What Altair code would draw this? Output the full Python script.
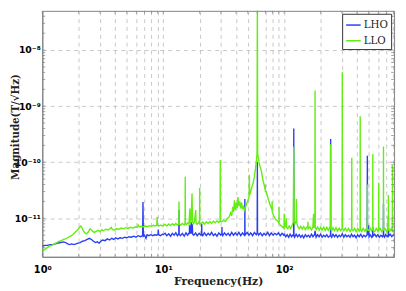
import altair as alt
import pandas as pd

# (frequency in Hz, magnitude in 1e-12 T/sqrt(Hz))
lho = [
    (1.00, 3.2), (1.05, 3.3), (1.10, 3.3), (1.16, 3.4), (1.22, 3.4), (1.28, 3.5), (1.35, 3.6), (1.42, 3.7),
    (1.50, 3.8), (1.56, 3.7), (1.62, 3.5), (1.68, 3.4), (1.75, 3.5), (1.82, 3.4), (1.90, 3.5), (1.98, 3.6),
    (2.06, 3.7), (2.15, 3.9), (2.25, 4.0), (2.35, 4.2), (2.45, 4.4), (2.55, 4.2), (2.65, 3.9), (2.75, 3.7),
    (2.85, 3.8), (2.95, 3.6), (3.05, 3.9), (3.15, 4.1), (3.3, 4.0), (3.45, 4.3), (3.6, 4.1), (3.75, 4.4),
    (3.9, 4.2), (4.05, 4.5), (4.2, 4.3), (4.4, 4.5), (4.6, 4.4), (4.8, 4.6), (5.0, 4.5), (5.2, 4.7),
    (5.45, 4.6), (5.7, 4.8), (5.95, 4.6), (6.2, 4.9), (6.5, 4.7), (6.75, 4.9), (6.8, 19.5), (6.85, 4.8),
    (7.0, 5.0), (7.2, 4.4), (7.35, 5.1), (7.6, 4.9), (7.9, 5.1), (8.2, 4.9), (8.5, 5.1), (8.8, 5.0),
    (9.05, 5.2), (9.1, 6.3), (9.15, 5.1), (9.5, 4.9), (9.8, 5.2), (10.0, 5.1),
    (10.35, 5.4), (10.7, 4.9), (11.1, 5.3), (11.5, 4.8), (11.9, 5.4), (12.3, 5.0), (12.7, 5.5), (13.1, 4.9),
    (13.45, 5.3), (13.5, 14.0), (13.55, 5.2), (13.9, 4.9), (14.4, 5.4), (14.9, 4.8), (15.4, 5.5), (15.9, 5.0),
    (16.45, 5.6), (16.5, 7.6), (16.6, 5.4), (16.95, 5.5), (17.0, 8.6), (17.1, 5.6), (17.35, 5.4), (17.4, 7.8),
    (17.5, 5.2), (17.9, 5.0), (18.5, 5.5), (19.1, 4.9), (19.8, 5.4), (20.5, 5.0), (20.75, 5.3), (20.8, 8.0),
    (20.85, 5.2), (21.2, 4.9), (21.9, 5.5), (22.7, 4.9), (23.5, 5.4), (24.3, 5.0), (25.1, 5.6), (26.0, 4.9),
    (26.9, 5.3), (27.8, 4.8), (28.8, 5.5), (29.8, 5.0), (30.55, 5.4), (30.6, 7.0), (30.65, 5.3), (31.0, 4.9),
    (32.1, 5.5), (33.2, 5.0), (34.4, 5.4), (35.6, 4.9), (36.8, 5.6), (38.1, 5.0), (39.4, 5.5), (40.8, 5.0),
    (42.2, 5.6), (43.7, 4.9), (45.2, 5.5), (46.8, 5.0), (47.2, 5.4), (47.3, 22.0), (47.4, 5.5), (47.8, 5.1),
    (49.4, 5.6), (51.1, 5.0), (52.9, 5.5), (54.8, 4.9), (56.7, 5.6), (58.7, 5.1), (59.8, 5.5), (60.0, 100.0),
    (60.2, 5.6), (61.5, 5.0), (63.6, 5.5), (65.8, 4.9), (68.1, 5.4), (70.5, 5.0), (73.0, 5.6), (75.5, 4.9),
    (78.1, 5.5), (80.9, 5.0), (83.7, 5.4), (86.6, 5.1), (89.6, 5.5), (92.7, 4.9), (96.0, 5.4), (99.3, 5.0),
    (100, 5.2), (103, 4.7), (106, 5.1), (109, 4.6), (112, 5.2), (115, 4.7), (118.5, 5.1), (119.6, 4.8),
    (120, 400.0), (120.4, 5.0), (122, 4.6), (125.5, 5.2), (129, 4.7), (133, 5.1), (137, 4.6), (141, 5.0),
    (145, 4.5), (149.5, 5.1), (154, 4.7), (158.5, 5.0), (163, 4.6), (168, 5.2), (173, 4.7), (178, 5.1),
    (180, 6.0), (183.5, 4.6), (189, 5.1), (194.5, 4.7), (200, 5.2), (206, 4.6), (212, 5.0), (218.5, 4.7),
    (225, 5.1), (231.5, 4.6), (241.5, 5.0), (242, 260.0), (242.5, 4.9), (247, 4.6), (253, 5.2), (260.5, 4.7),
    (268, 5.1), (276, 4.6), (284.5, 5.0), (293, 4.7), (302, 5.3), (311, 4.6), (320, 5.1), (330, 4.7),
    (340, 5.0), (350, 4.6), (360, 5.2), (371, 4.7), (382, 5.0), (393, 4.5), (405, 5.1), (417, 4.7),
    (430, 5.2), (443, 4.6), (456, 5.0), (470, 4.7), (485.5, 5.1), (487, 130.0), (488.5, 5.0), (498, 7.5),
    (503, 4.7), (513, 5.1), (528, 4.6), (538, 5.0), (540, 7.0), (542, 4.8), (560, 5.2), (577, 4.7),
    (594, 5.1), (612, 4.6), (630, 5.0), (649, 4.7), (660, 5.1), (662, 18.0), (664, 4.9), (675, 4.6),
    (690, 5.1), (709, 4.7), (725, 5.0), (727, 11.0), (729, 4.8), (752, 5.2), (775, 4.7), (800, 5.1),
    (820, 4.8),
]

llo = [
    (1.00, 2.6), (1.05, 2.8), (1.10, 3.0), (1.15, 3.2), (1.20, 3.3), (1.26, 3.5), (1.32, 3.7), (1.38, 3.9),
    (1.44, 4.0), (1.50, 4.2), (1.56, 4.3), (1.62, 4.5), (1.68, 4.7), (1.74, 4.9), (1.80, 5.2), (1.86, 5.6),
    (1.92, 6.0), (1.98, 6.4), (2.04, 7.0), (2.08, 7.3), (2.12, 6.9), (2.18, 6.0), (2.25, 5.5), (2.32, 5.3),
    (2.40, 5.7), (2.48, 6.5), (2.55, 6.2), (2.62, 5.8), (2.70, 5.6), (2.80, 5.9), (2.90, 6.1), (3.00, 5.8),
    (3.10, 6.3), (3.20, 6.0), (3.35, 6.4), (3.50, 6.2), (3.65, 6.6), (3.72, 6.9), (3.80, 6.3), (3.95, 6.2),
    (4.10, 6.5), (4.30, 6.4), (4.50, 6.7), (4.70, 6.5), (4.90, 6.8), (5.10, 6.6), (5.35, 6.9), (5.60, 6.7),
    (5.85, 7.0), (6.10, 6.9), (6.20, 7.6), (6.35, 7.0), (6.60, 7.2), (6.85, 7.0), (7.10, 7.3), (7.40, 7.1),
    (7.70, 7.4), (8.00, 7.2), (8.30, 7.5), (8.60, 7.3), (8.85, 7.6), (8.90, 10.7), (8.95, 7.5), (9.20, 7.3),
    (9.50, 7.6), (9.80, 7.3), (10.0, 7.5),
    (10.35, 7.8), (10.7, 7.3), (11.1, 7.9), (11.5, 7.4), (11.9, 8.0), (12.3, 7.5), (12.7, 8.1), (13.1, 7.6),
    (13.45, 8.0), (13.5, 20.0), (13.55, 7.9), (13.9, 7.5), (14.4, 8.1), (14.9, 7.6), (15.15, 8.2), (15.2, 55.0),
    (15.25, 8.0), (15.5, 7.7), (15.9, 8.3), (16.3, 7.8), (16.6, 15.0), (16.75, 8.2), (17.0, 9.5), (17.3, 28.0),
    (17.45, 9.0), (17.7, 8.0), (18.1, 8.6), (18.55, 14.0), (18.7, 8.2), (19.1, 7.8), (19.6, 8.5), (19.95, 8.0),
    (20.0, 35.0), (20.05, 8.2), (20.5, 8.0), (21.2, 8.6), (21.9, 7.9), (22.7, 8.7), (23.5, 8.1), (24.3, 8.8),
    (25.1, 8.2), (26.0, 8.9), (26.9, 8.3), (27.8, 9.0), (28.8, 8.4), (29.5, 9.0), (29.6, 110.0), (29.7, 8.8),
    (30.4, 8.6), (31.5, 9.2), (32.6, 8.8), (33.8, 9.8), (35.0, 10.5), (36.0, 12.5), (36.8, 11.0), (37.5, 16.0),
    (38.1, 13.0), (38.8, 21.0), (39.4, 14.0), (40.2, 19.0), (40.8, 15.0), (41.5, 24.0), (42.2, 16.5), (43.0, 20.0),
    (43.7, 15.0), (44.5, 19.0), (45.2, 14.5), (46.0, 16.0), (46.8, 14.0), (47.5, 15.5), (48.5, 17.0), (49.5, 19.5),
    (50.5, 22.0), (51.2, 24.0), (51.5, 60.0), (51.8, 26.0), (52.9, 30.0), (54.0, 36.0), (55.4, 43.0), (56.7, 55.0),
    (58.0, 80.0), (59.0, 110.0), (59.6, 140.0), (60.0, 60000.0), (60.4, 140.0), (61.3, 115.0), (62.5, 90.0),
    (64.5, 72.0), (66.5, 50.0), (68.5, 38.0), (69.7, 32.0), (69.8, 40.0), (69.9, 30.0), (71.0, 30.0),
    (73.0, 24.0), (75.5, 19.0), (77.5, 16.0), (79.3, 14.0), (79.5, 20.0), (79.7, 13.0), (82.0, 11.0),
    (85.0, 9.5), (88.0, 9.0), (90.5, 8.3), (90.7, 16.0), (90.9, 8.0), (94.0, 7.4), (97.0, 7.0),
    (99.5, 6.6), (100.0, 12.0), (100.5, 6.8), (102, 7.2), (104, 10.0), (104.5, 6.9), (107, 6.5), (110, 7.3),
    (113, 6.6), (116, 7.4), (118.8, 8.5), (120.0, 190.0), (121.0, 9.5), (123, 8.0), (125.8, 9.0), (126.2, 22.0),
    (126.8, 8.5), (129, 7.3), (133, 6.5), (137, 7.2), (141, 6.4), (145, 7.1), (149.5, 6.3), (154, 7.0),
    (156.8, 6.8), (157.2, 8.7), (157.8, 6.5), (163, 7.0), (168, 6.2), (172.5, 7.0), (175.0, 12.0), (176, 6.8),
    (179.3, 7.5), (180.0, 1900.0), (180.7, 7.0), (184, 6.3), (189, 7.0), (194.5, 6.1), (200, 6.9), (206, 6.2),
    (212, 7.0), (218.5, 6.1), (225, 6.9), (231.5, 6.1), (237, 6.8), (241.2, 6.5), (242.0, 210.0), (242.8, 6.7),
    (247, 6.0), (253, 6.8), (260.5, 6.0), (268, 6.8), (276, 5.9), (284.5, 6.7), (293, 6.0), (301.0, 6.6),
    (302.0, 4000.0), (303.0, 6.5), (311, 6.0), (320, 6.7), (330, 5.9), (340, 6.6), (350, 5.8), (361.0, 6.5),
    (362.0, 120.0), (363.0, 6.3), (371, 6.0), (382, 6.6), (393, 5.8), (405, 6.6), (417, 5.9), (424.0, 6.5),
    (425.0, 660.0), (426.0, 6.4), (437, 5.8), (450, 6.6), (465, 5.9), (477, 6.5), (486.0, 6.0), (487.0, 40.0),
    (488.0, 6.4), (500, 6.1), (513, 6.7), (528, 5.9), (539.0, 6.6), (540.0, 140.0), (541.0, 6.2), (560, 5.8),
    (577, 6.6), (594, 5.9), (603.0, 6.5), (604.0, 43.0), (605.0, 6.1), (620, 6.6), (640, 5.8), (661.0, 6.5),
    (662.0, 190.0), (663.0, 6.2), (680, 6.6), (700, 5.8), (715, 6.5), (726.0, 6.0), (727.0, 26.0), (728.0, 6.6),
    (745, 5.9), (765, 6.5), (784.0, 6.0), (785.0, 88.0), (786.0, 6.4), (800, 5.9), (820, 6.4),
]

series_names = ["LHO", "LLO"]
series_colors = ["#2a3ff2", "#62ee10"]

x_grid = [1, 2, 3, 4, 5, 6, 7, 8, 9, 10, 20, 30, 40, 50, 60, 70, 80, 90, 100, 200, 300, 400, 500, 600, 700, 800]
x_labels = {1: "10⁰", 10: "10¹", 100: "10²"}
y_major = [1e-11, 1e-10, 1e-9, 1e-8]
y_labels = ["10⁻¹¹", "10⁻¹⁰", "10⁻⁹", "10⁻⁸"]
y_minor = [3e-12, 4e-12, 5e-12, 6e-12, 7e-12, 8e-12, 9e-12,
           1e-11, 2e-11, 3e-11, 4e-11, 5e-11, 6e-11, 7e-11, 8e-11, 9e-11,
           1e-10, 2e-10, 3e-10, 4e-10, 5e-10, 6e-10, 7e-10, 8e-10, 9e-10,
           1e-9, 2e-9, 3e-9, 4e-9, 5e-9, 6e-9, 7e-9, 8e-9, 9e-9,
           1e-8, 2e-8, 3e-8, 4e-8]

W, H = 359, 251


def frame(pairs, name):
    return pd.DataFrame({
        "freq": [p[0] for p in pairs],
        "mag": [p[1] * 1e-12 for p in pairs],
        "series": name,
    })


df_lho = frame(lho, "LHO")
df_llo = frame(llo, "LLO")

x_scale = alt.Scale(type="log", domain=[1, 810], nice=False)
y_scale = alt.Scale(type="log", domain=[2.06e-12, 5e-8], nice=False)

x_label_expr = " : ".join(f"datum.value == {k} ? '{v}'" for k, v in x_labels.items()) + " : ''"
y_label_expr = ("datum.value < 5e-11 ? '{0}' : datum.value < 5e-10 ? '{1}' : "
                "datum.value < 5e-9 ? '{2}' : '{3}'").format(*y_labels)

x_axis = alt.Axis(
    values=x_grid, labelExpr=x_label_expr, grid=True, gridDash=[4, 4], gridColor="#b8b8b8",
    gridWidth=0.8, ticks=False, domainColor="#808080", labelFont="DejaVu Sans",
    labelFontWeight="bold", labelFontSize=10, labelColor="black", labelPadding=8,
    labelOverlap=False, labelFlush=False,
    title="Frequency(Hz)", titleFont="DejaVu Serif", titleFontWeight="bold", titleFontSize=11,
    titleColor="#222", titleY=28, titleBaseline="alphabetic",
)
y_axis = alt.Axis(
    values=y_major, labelExpr=y_label_expr, grid=True, gridDash=[4, 4], gridColor="#b8b8b8",
    gridWidth=0.8, ticks=False, domainColor="#808080", labelFont="DejaVu Sans",
    labelFontWeight="bold", labelFontSize=9.5, labelColor="black", labelPadding=2,
    title="Magnitude(T/√Hz)", titleFont="DejaVu Serif", titleFontWeight="bold", titleFontSize=10.5,
    titleColor="#222", titleX=-24, titleY=118, titleBaseline="alphabetic",
)

color = alt.Color(
    "series:N",
    scale=alt.Scale(domain=series_names, range=series_colors),
    legend=alt.Legend(
        title=None, orient="top-right", offset=3, padding=3, strokeColor="#333",
        fillColor="white", symbolType="stroke", symbolSize=220, symbolStrokeWidth=1.5,
        labelFont="DejaVu Serif", labelFontSize=10.5, labelColor="#222", rowPadding=2,
        labelOffset=2,
    ),
)

X = alt.X("freq:Q", scale=x_scale, axis=x_axis)
Y = alt.Y("mag:Q", scale=y_scale, axis=y_axis)

line_lho = alt.Chart(df_lho).mark_line(clip=True, strokeWidth=1.4).encode(x=X, y=Y, color=color)
line_llo = alt.Chart(df_llo).mark_line(clip=True, strokeWidth=1.4).encode(x=X, y=Y, color=color)

xt = pd.DataFrame({"freq": x_grid})
yt = pd.DataFrame({"mag": y_minor})
tick_style = dict(color="#808080", thickness=1, size=3)
ticks_bottom = alt.Chart(xt).mark_tick(orient="vertical", **tick_style).encode(x=X, y=alt.value(H - 1.5))
ticks_top = alt.Chart(xt).mark_tick(orient="vertical", **tick_style).encode(x=X, y=alt.value(1.5))
ticks_left = alt.Chart(yt).mark_tick(orient="horizontal", **tick_style).encode(y=Y, x=alt.value(1.5))
ticks_right = alt.Chart(yt).mark_tick(orient="horizontal", **tick_style).encode(y=Y, x=alt.value(W - 1.5))

chart = alt.layer(
    line_lho, line_llo, ticks_bottom, ticks_top, ticks_left, ticks_right
).properties(
    width=W, height=H, autosize=alt.AutoSizeParams(type="none"),
    padding={"left": 35, "top": 0, "right": 4, "bottom": 32},
).configure_view(
    stroke="#808080", strokeWidth=1
)

chart.save("out.html", embed_options={"renderer": "svg", "actions": False})
